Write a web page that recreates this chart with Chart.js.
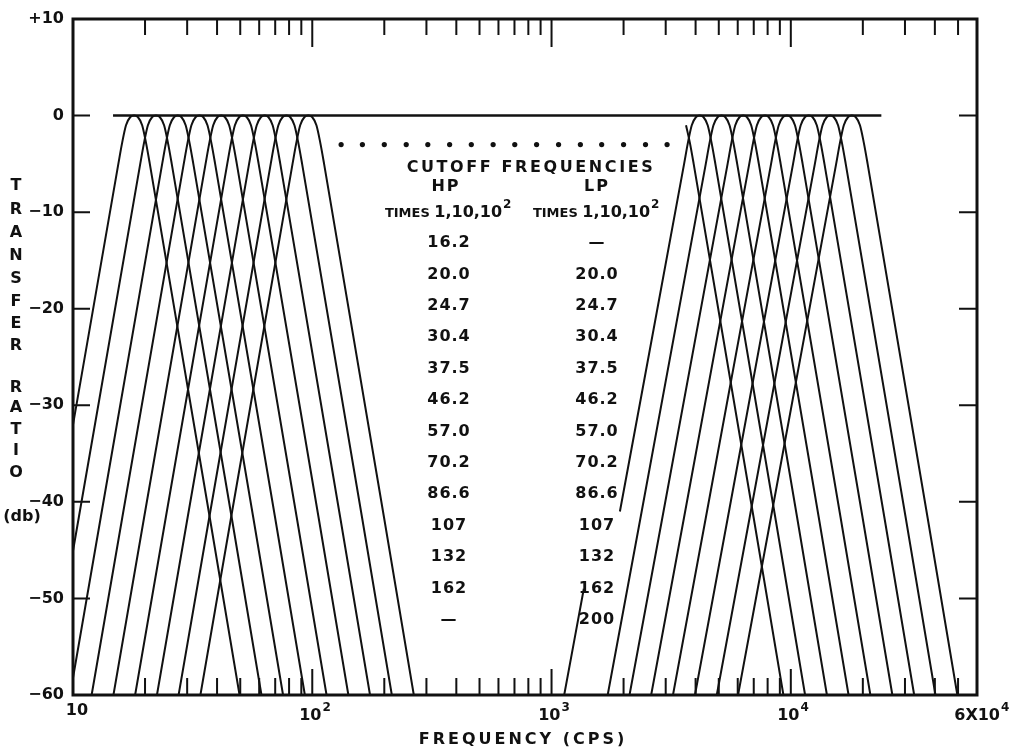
<!DOCTYPE html>
<html>
<head>
<meta charset="utf-8">
<script src="https://cdn.jsdelivr.net/npm/chart.js@4.4.1/dist/chart.umd.min.js"></script>
<style>
  html, body { margin: 0; padding: 0; background: #fff; }
  #wrap { width: 1013px; height: 748px; }
</style>
</head>
<body>
<div id="wrap"><canvas id="chart" width="1013" height="748"></canvas></div>
<script>
// cutoff frequencies (cps) from the table, times 1
const hpCutoffs = [16.2, 20.0, 24.7, 30.4, 37.5, 46.2, 57.0, 70.2, 86.6, 107, 132, 162];
const lpCutoffs = [20.0, 24.7, 30.4, 37.5, 46.2, 57.0, 70.2, 86.6, 107, 132, 162, 200];
const hpLabels = ['16.2', '20.0', '24.7', '30.4', '37.5', '46.2', '57.0', '70.2', '86.6', '107', '132', '162', '—'];
const lpLabels = ['—', '20.0', '24.7', '30.4', '37.5', '46.2', '57.0', '70.2', '86.6', '107', '132', '162', '200'];

// bands drawn: left group times 1, right group times 10^2 (index into the cutoff lists)
const leftBands = [0, 1, 2, 3, 4, 5, 6, 7, 8];
const rightBands = [4, 5, 6, 7, 8, 9, 10, 11];
// where the low skirt stops under the table: first right band from -41 db up,
// band 30.4-37.5 (times 10^2) only a stub up to -49 db plus its high skirt
const firstRightCutDb = -41;
const partialBand = 3;
const stubTopDb = -49;

// skirt shape: offset outside the cutoff (decades) and transfer ratio (db)
const skirtOffset = [0.405, 0.02, 0.004, -0.012, -0.03];
const skirtDb = [-60, -5, -2.8, -1.0, -0.15];
// where the skirts reach -60 db (decades outside the cutoff): low side left/right group, high side
const lowFoot = [0.405, 0.43];
const highFoot = 0.395;

// the dotted row for the bands left out, and the 0 db line
const dotFreqs = [132, 162, 200, 247, 304, 375, 462, 570, 702, 866, 1070, 1320, 1620, 2000, 2470, 3040];
const dotDb = -3;
const flatLine = [14.7, 23900];

const yTicks = [10, 0, -10, -20, -30, -40, -50, -60];

function offsets(foot) {
  return [foot].concat(skirtOffset.slice(1));
}
// offset on the straight part of a skirt at a given db
function offsetAt(db, foot) {
  return foot + (db - skirtDb[0]) * (skirtOffset[1] - foot) / (skirtDb[1] - skirtDb[0]);
}
function lowSkirt(lo, foot) {
  return offsets(foot).map((o, i) => ({ x: lo * Math.pow(10, -o), y: skirtDb[i] }));
}
function highSkirt(hi) {
  return offsets(highFoot).map((o, i) => ({ x: hi * Math.pow(10, o), y: skirtDb[i] })).reverse();
}
function bandPoints(lo, hi, foot) {
  return lowSkirt(lo, foot).concat([{ x: Math.sqrt(lo * hi), y: 0 }], highSkirt(hi));
}

const lineStyle = {
  borderColor: '#111',
  borderWidth: 2,
  pointRadius: 0,
  fill: false,
  cubicInterpolationMode: 'monotone',
  capBezierPoints: false,
  clip: 0
};
const line = data => Object.assign({ data }, lineStyle);

const datasets = [];
leftBands.forEach(i => datasets.push(line(bandPoints(hpCutoffs[i], lpCutoffs[i], lowFoot[0]))));
rightBands.forEach((i, k) => {
  const lo = hpCutoffs[i] * 100;
  const pts = bandPoints(lo, lpCutoffs[i] * 100, lowFoot[1]);
  if (k === 0) pts[0] = { x: lo * Math.pow(10, -offsetAt(firstRightCutDb, lowFoot[1])), y: firstRightCutDb };
  datasets.push(line(pts));
});
const pLo = hpCutoffs[partialBand] * 100;
datasets.push(line([
  lowSkirt(pLo, lowFoot[1])[0],
  { x: pLo * Math.pow(10, -offsetAt(stubTopDb, lowFoot[1])), y: stubTopDb }
]));
datasets.push(line(highSkirt(lpCutoffs[partialBand] * 100).slice(1)));
datasets.push({
  data: flatLine.map(f => ({ x: f, y: 0 })),
  borderColor: '#111', borderWidth: 2.5, pointRadius: 0, clip: 0
});
datasets.push({
  data: dotFreqs.map(f => ({ x: f, y: dotDb })),
  showLine: false, pointRadius: 2.6, pointBackgroundColor: '#111', pointBorderWidth: 0
});

const FONT = 'bold 16px "DejaVu Sans"';
const SUP = 'bold 12px "DejaVu Sans"';

function text(ctx, str, x, y, align, font, spacing) {
  ctx.font = font || FONT;
  ctx.textAlign = align || 'center';
  ctx.textBaseline = 'middle';
  ctx.letterSpacing = (spacing || 0) + 'px';
  ctx.fillText(str, x, y);
  ctx.letterSpacing = '0px';
}

// "10" with a raised exponent, centred on x
function power(ctx, base, exp, x, y) {
  ctx.font = FONT;
  const w1 = ctx.measureText(base).width;
  ctx.font = SUP;
  const w2 = ctx.measureText(exp).width;
  const left = x - (w1 + w2 + 1) / 2;
  text(ctx, base, left, y, 'left');
  text(ctx, exp, left + w1 + 1, y - 8, 'left', SUP);
}

const framePlugin = {
  id: 'frame',
  afterDatasetsDraw(chart) {
    const { ctx, chartArea: a, scales: { x, y } } = chart;
    ctx.save();
    ctx.fillStyle = '#111';
    ctx.strokeStyle = '#111';

    // log ticks on top and bottom edges
    ctx.lineWidth = 2;
    for (let dec = 10; dec <= 10000; dec *= 10) {
      for (let m = 1; m <= 9; m++) {
        const f = dec * m;
        if (f <= 10 || f >= 60000) continue;
        const px = x.getPixelForValue(f);
        const major = m === 1;
        ctx.beginPath();
        ctx.moveTo(px, a.top);
        ctx.lineTo(px, a.top + (major ? 28 : 16));
        ctx.moveTo(px, a.bottom);
        ctx.lineTo(px, a.bottom - (major ? 26 : 17));
        ctx.stroke();
      }
    }
    // db ticks on left and right edges
    yTicks.forEach(v => {
      if (v === 10 || v === -60) return;
      const py = y.getPixelForValue(v);
      ctx.beginPath();
      ctx.moveTo(a.left, py);
      ctx.lineTo(a.left + 17, py);
      ctx.moveTo(a.right, py);
      ctx.lineTo(a.right - 18, py);
      ctx.stroke();
    });

    // frame
    ctx.lineWidth = 3;
    ctx.strokeRect(a.left, a.top, a.right - a.left, a.bottom - a.top);

    // table of cutoff frequencies
    text(ctx, 'CUTOFF FREQUENCIES', 531, 168, 'center', FONT, 2.6);
    text(ctx, 'HP', 446, 187, 'center', FONT, 2);
    text(ctx, 'LP', 597, 187, 'center', FONT, 2);
    [448, 596].forEach(cx => {
      ctx.font = 'bold 13px "DejaVu Sans"';
      const w1 = ctx.measureText('TIMES ').width;
      ctx.font = FONT;
      const w2 = ctx.measureText('1,10,10').width;
      const left = cx - (w1 + w2 + 9) / 2;
      text(ctx, 'TIMES ', left, 214, 'left', 'bold 13px "DejaVu Sans"');
      text(ctx, '1,10,10', left + w1, 213, 'left');
      text(ctx, '2', left + w1 + w2 + 1, 205, 'left', SUP);
    });
    hpLabels.forEach((s, i) => {
      const yy = 243 + i * 31.4;
      text(ctx, s, 449, yy, 'center', FONT, 1);
      text(ctx, lpLabels[i], 597, yy, 'center', FONT, 1);
    });

    // frequency labels
    text(ctx, '10', 77, 711, 'center');
    power(ctx, '10', '2', 315, 716);
    power(ctx, '10', '3', 554, 716);
    power(ctx, '10', '4', 793, 716);
    ctx.font = FONT;
    const w6 = ctx.measureText('6X10').width;
    text(ctx, '6X10', 1000 - w6, 716, 'left');
    text(ctx, '4', 1001, 708, 'left', SUP);
    text(ctx, 'FREQUENCY (CPS)', 523, 740, 'center', FONT, 3);

    // vertical axis title, one letter per line
    const letters = ['T', 'R', 'A', 'N', 'S', 'F', 'E', 'R', '', 'R', 'A', 'T', 'I', 'O'];
    const ly = [186, 210, 233, 256, 279, 302, 324, 346, 0, 388, 408, 430, 451, 473];
    letters.forEach((c, i) => { if (c) text(ctx, c, 16, ly[i], 'center'); });
    text(ctx, '(db)', 22, 517, 'center');
    ctx.restore();
  }
};

const ctx = document.getElementById('chart').getContext('2d');
new Chart(ctx, {
  type: 'line',
  data: { datasets },
  options: {
    responsive: false,
    animation: false,
    events: [],
    layout: { padding: { left: 0, top: 19, right: 36, bottom: 53 } },
    plugins: { legend: { display: false }, tooltip: { enabled: false } },
    scales: {
      x: { type: 'logarithmic', min: 10, max: 60000, display: false },
      y: {
        type: 'linear', min: -60, max: 10,
        afterBuildTicks: s => { s.ticks = yTicks.map(v => ({ value: v })); },
        afterFit: s => { s.width = 73; },
        ticks: {
          padding: 9,
          color: '#111',
          font: { family: 'DejaVu Sans', size: 16, weight: 'bold' },
          callback: v => (v > 0 ? '+' + v : String(v).replace('-', '\u2212'))
        },
        grid: { display: false, drawTicks: false },
        border: { display: false }
      }
    }
  },
  plugins: [framePlugin]
});
</script>
</body>
</html>
